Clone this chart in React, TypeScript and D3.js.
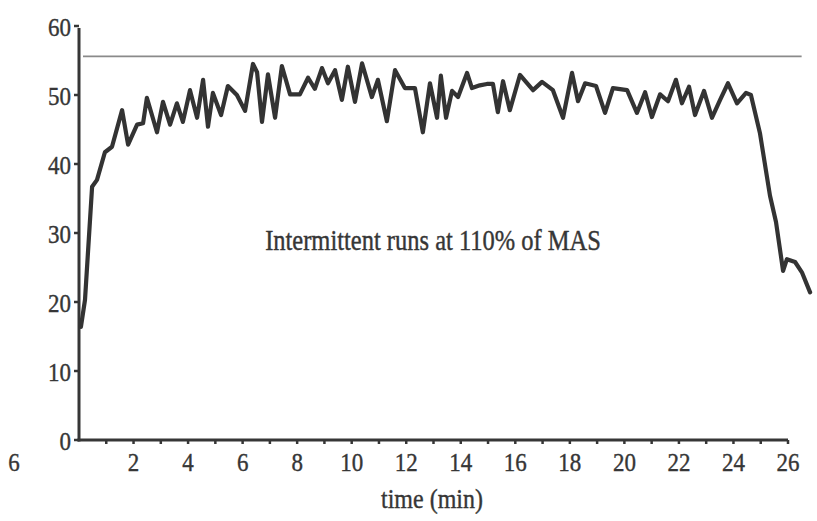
import React from 'react';
import * as d3 from 'd3';

const times = [
  0.07, 0.22, 0.48, 0.66, 0.95, 1.21, 1.58, 1.8, 2.13, 2.35, 2.49, 2.86, 3.08, 3.34, 3.59, 3.81,
  4.07, 4.33, 4.55, 4.73, 4.91, 5.21, 5.46, 5.79, 6.09, 6.38, 6.53, 6.71, 6.93, 7.19, 7.44, 7.74,
  8.1, 8.4, 8.65, 8.91, 9.13, 9.39, 9.64, 9.86, 10.12, 10.38, 10.74, 10.96, 11.29, 11.59, 11.95,
  12.32, 12.61, 12.87, 13.13, 13.27, 13.46, 13.68, 13.9, 14.23, 14.41, 14.7, 14.96, 15.18, 15.36,
  15.55, 15.8, 16.17, 16.65, 16.98, 17.38, 17.75, 18.08, 18.3, 18.56, 18.96, 19.29, 19.58, 20.1,
  20.46, 20.76, 21.01, 21.31, 21.6, 21.89, 22.11, 22.37, 22.59, 22.92, 23.21, 23.51, 23.8, 24.13,
  24.46, 24.64, 24.97, 25.34, 25.56, 25.82, 25.96, 26.26, 26.51, 26.81,
];
const values = [
  16.4, 20.3, 36.7, 37.7, 41.7, 42.5, 47.8, 42.8, 45.7, 45.9, 49.6, 44.6, 49.0, 45.7, 48.8, 46.1,
  50.7, 46.7, 52.2, 45.4, 50.3, 47.1, 51.3, 50.0, 47.7, 54.5, 53.3, 46.1, 53.0, 46.7, 54.2, 50.1,
  50.1, 52.5, 50.9, 53.9, 51.7, 53.6, 49.3, 54.1, 49.0, 54.6, 49.7, 52.2, 46.2, 53.6, 51.0,
  51.0, 44.6, 51.7, 46.7, 52.8, 46.7, 50.6, 49.7, 53.2, 51.0, 51.4, 51.6, 51.6, 47.5,
  52.0, 47.8, 52.9, 50.7, 51.9, 50.7, 46.7, 53.2, 49.1, 51.7, 51.3, 47.4, 51.0, 50.7,
  47.4, 50.4, 46.8, 50.1, 49.1, 52.2, 48.8, 51.2, 47.1, 50.6, 46.7, 49.3, 51.7, 48.8,
  50.3, 50.0, 44.5, 35.4, 31.6, 24.5, 26.2, 25.8, 24.3, 21.4,
];
const refValue = 55.6;
const refEnd = 26.5;
const xTickLabels = [2, 4, 6, 8, 10, 12, 14, 16, 18, 20, 22, 24, 26];
const xMinorTicks = d3.range(1, 27);
const yTickLabels = [0, 10, 20, 30, 40, 50, 60];
const annotation = 'Intermittent runs at 110% of MAS';
const xTitle = 'time (min)';
const strayLabel = '6';

const FONT = '"Liberation Serif", "Times New Roman", serif';
const INK = '#363636';

export default function App() {
  const x = d3.scaleLinear().domain([0, 26]).range([79, 788]);
  const y = d3.scaleLinear().domain([0, 60]).range([440, 26]);
  const pts: [number, number][] = times.map((t, i) => [x(t), y(values[i])]);
  const path = d3.line().curve(d3.curveLinear)(pts) || '';

  const txt = (key: string | number, tx: number, ty: number, s: string, size: number, anchor: string, sy = 1.12) => (
    <text
      key={key}
      transform={`translate(${tx},${ty}) scale(1,${sy})`}
      fontFamily={FONT}
      fontSize={size}
      fill={INK}
      stroke={INK}
      strokeWidth={0.35}
      textAnchor={anchor as any}
      dominantBaseline="central"
    >
      {s}
    </text>
  );

  return (
    <svg
      width={817}
      height={521}
      style={{ position: 'absolute', left: 0, top: 0, background: '#fff' }}
    >
      <rect x={0} y={0} width={817} height={521} fill="#fff" />
      {/* reference line */}
      <line x1={x(0) + 4} x2={x(refEnd)} y1={y(refValue)} y2={y(refValue)} stroke="#8a8a8a" strokeWidth={1.6} />
      {/* axes */}
      <line x1={x(0)} x2={x(0)} y1={y(60) + 2} y2={y(0) + 1.5} stroke={INK} strokeWidth={3} />
      <line x1={x(0) - 1.5} x2={x(26)} y1={y(0)} y2={y(0)} stroke={INK} strokeWidth={3} />
      {yTickLabels.map((v) => (
        <line key={'yt' + v} x1={x(0) - 5} x2={x(0)} y1={y(v)} y2={y(v)} stroke={INK} strokeWidth={2.5} />
      ))}
      {xMinorTicks.map((t) => (
        <line key={'xt' + t} x1={x(t)} x2={x(t)} y1={y(0)} y2={y(0) + 4} stroke={INK} strokeWidth={2.5} />
      ))}
      {yTickLabels.map((v) => txt('yl' + v, x(0) - 8, y(v) + 1, String(v), 23, 'end'))}
      {xTickLabels.map((t) => txt('xl' + t, x(t), 462, String(t), 23, 'middle'))}
      {txt('stray', 14, 462, strayLabel, 23, 'middle')}
      {txt('xtitle', 432, 499, xTitle, 24, 'middle')}
      {txt('ann', 433, 240, annotation, 24.5, 'middle', 1.18)}
      {/* data line */}
      <path d={path} fill="none" stroke="#333" strokeWidth={4.2} strokeLinejoin="round" strokeLinecap="round" />
    </svg>
  );
}
